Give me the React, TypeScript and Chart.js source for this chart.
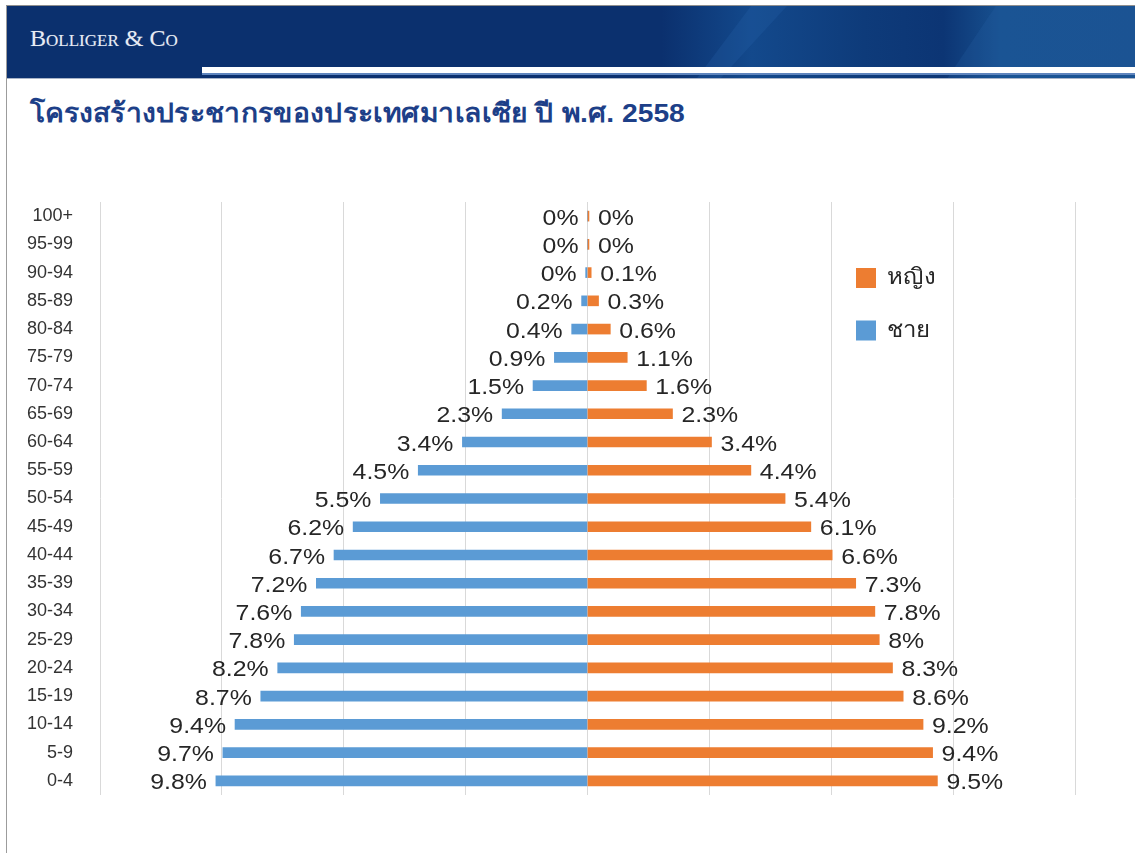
import React, { useEffect, useRef } from "react";
import { Chart, registerables } from "chart.js";

Chart.register(...registerables);

// ---- data (top row first) ----
const ageGroups = [
  "100+", "95-99", "90-94", "85-89", "80-84", "75-79", "70-74", "65-69", "60-64", "55-59", "50-54",
  "45-49", "40-44", "35-39", "30-34", "25-29", "20-24", "15-19", "10-14", "5-9", "0-4",
];
// bar lengths (share of population, %)
const maleValues = [
  0, 0, 0.05, 0.16, 0.43, 0.9, 1.48, 2.32, 3.4, 4.6, 5.63,
  6.37, 6.89, 7.37, 7.78, 7.97, 8.42, 8.88, 9.58, 9.91, 10.1,
];
const femaleValues = [
  0.04, 0.04, 0.1, 0.3, 0.62, 1.08, 1.6, 2.31, 3.37, 4.44, 5.37,
  6.07, 6.65, 7.29, 7.81, 7.93, 8.29, 8.58, 9.12, 9.38, 9.51,
];
// printed value labels
const maleLabels = [
  "0%", "0%", "0%", "0.2%", "0.4%", "0.9%", "1.5%", "2.3%", "3.4%", "4.5%", "5.5%",
  "6.2%", "6.7%", "7.2%", "7.6%", "7.8%", "8.2%", "8.7%", "9.4%", "9.7%", "9.8%",
];
const femaleLabels = [
  "0%", "0%", "0.1%", "0.3%", "0.6%", "1.1%", "1.6%", "2.3%", "3.4%", "4.4%", "5.4%",
  "6.1%", "6.6%", "7.3%", "7.8%", "8%", "8.3%", "8.6%", "9.2%", "9.4%", "9.5%",
];
const femaleName = "หญิง";
const maleName = "ชาย";
const titleText = "โครงสร้างประชากรของประเทศมาเลเซีย ปี พ.ศ. 2558";
const brandText = "Bolliger & Co";
const axisLimit = 13.25;
const gridSteps = 4; // per side

const MALE_COLOR = "#5B9BD5";
const FEMALE_COLOR = "#ED7D31";
const FONT = '"Liberation Sans", Arial, "Noto Sans", sans-serif';
const STRETCH = 1.13;

export default function App() {
  const canvasRef = useRef<HTMLCanvasElement | null>(null);

  useEffect(() => {
    const canvas = canvasRef.current;
    if (!canvas) return;

    const drawStretched = (
      ctx: CanvasRenderingContext2D,
      text: string,
      x: number,
      y: number,
      align: CanvasTextAlign,
      sx: number
    ) => {
      ctx.save();
      ctx.translate(x, y);
      ctx.scale(sx, 1);
      ctx.textAlign = align;
      ctx.fillText(text, 0, 0);
      ctx.restore();
    };

    const valueLabelPlugin = {
      id: "valueLabels",
      afterDatasetsDraw(chart: any) {
        const ctx = chart.ctx as CanvasRenderingContext2D;
        ctx.save();
        ctx.font = `22px ${FONT}`;
        ctx.fillStyle = "#262626";
        ctx.textBaseline = "middle";
        chart.data.datasets.forEach((_ds: any, di: number) => {
          const meta = chart.getDatasetMeta(di);
          const texts = di === 0 ? femaleLabels : maleLabels;
          meta.data.forEach((el: any, i: number) => {
            const { x, y } = el.getProps(["x", "y"], true);
            if (di === 0) drawStretched(ctx, texts[i], x + 9, y + 2.5, "left", STRETCH);
            else drawStretched(ctx, texts[i], x - 9, y + 2.5, "right", STRETCH);
          });
        });
        ctx.restore();
      },
    };

    const legendPlugin = {
      id: "sideLegend",
      afterDraw(chart: any) {
        const ctx = chart.ctx as CanvasRenderingContext2D;
        const area = chart.chartArea;
        const items = [
          { name: femaleName, color: FEMALE_COLOR },
          { name: maleName, color: MALE_COLOR },
        ];
        ctx.save();
        ctx.font = `22px ${FONT}`;
        ctx.textBaseline = "middle";
        items.forEach((it, k) => {
          const sx = area.right - 219;
          const sy = area.top + 66 + k * 52.5;
          ctx.fillStyle = it.color;
          ctx.fillRect(sx, sy, 20, 20);
          ctx.fillStyle = "#262626";
          drawStretched(ctx, it.name, sx + 31, sy + 10, "left", 1.09);
        });
        ctx.restore();
      },
    };

    const chart = new Chart(canvas, {
      type: "bar",
      data: {
        labels: ageGroups,
        datasets: [
          {
            label: femaleName,
            data: femaleValues,
            backgroundColor: FEMALE_COLOR,
            barThickness: 10,
            grouped: false,
          },
          {
            label: maleName,
            data: maleValues.map((v) => -v),
            backgroundColor: MALE_COLOR,
            barThickness: 10,
            grouped: false,
          },
        ],
      },
      options: {
        indexAxis: "y",
        animation: false,
        responsive: false,
        layout: { padding: { left: 0, right: 60, top: 52, bottom: 58 } },
        plugins: {
          legend: { display: false },
          tooltip: { enabled: false },
        },
        scales: {
          x: {
            min: -axisLimit,
            max: axisLimit,
            afterBuildTicks(scale: any) {
              const t = [];
              for (let k = -gridSteps; k <= gridSteps; k++) t.push({ value: (k * axisLimit) / gridSteps });
              scale.ticks = t;
            },
            ticks: { display: false },
            grid: { color: "#D9D9D9", lineWidth: 1, drawTicks: false },
            border: { display: false },
          },
          y: {
            afterFit(scale: any) {
              scale.width = 100;
            },
            ticks: {
              padding: 27,
              color: "#333333",
              font: { family: FONT, size: 18 },
            },
            grid: { display: false, drawTicks: false },
            border: { display: false },
          },
        },
      },
      plugins: [valueLabelPlugin, legendPlugin],
    } as any);

    return () => chart.destroy();
  }, []);

  return (
    <div style={{ position: "fixed", inset: 0, overflow: "hidden", background: "#fff" }}>
      {/* page frame lines */}
      <div style={{ position: "absolute", left: 6, top: 5, width: 1, bottom: 0, background: "#9c9c9c" }} />
      <div style={{ position: "absolute", left: 6, top: 5, right: 0, height: 1, background: "#8f8f8f" }} />
      {/* header banner */}
      <div
        style={{
          position: "absolute",
          left: 7,
          top: 6,
          right: 0,
          height: 72,
          background:
            "linear-gradient(90deg, #0B306E 0%, #0B306E 58%, #13498C 66%, #0E3B7A 76%, #0C3574 83%, #17508F 88%, #184F8E 100%)",
          overflow: "hidden",
        }}
      >
        <div
          style={{
            position: "absolute",
            left: 690,
            top: 0,
            width: 300,
            height: 72,
            background: "rgba(40,100,170,0.25)",
            clipPath: "polygon(18% 0, 30% 0, 8% 100%, 0 100%)",
          }}
        />
        <div
          style={{
            position: "absolute",
            left: 930,
            top: 0,
            width: 210,
            height: 72,
            background: "rgba(40,100,170,0.22)",
            clipPath: "polygon(28% 0, 100% 0, 100% 100%, 5% 100%)",
          }}
        />
        <div
          style={{
            position: "absolute",
            left: 23,
            top: 20,
            fontFamily: '"Liberation Serif", "Times New Roman", serif',
            fontVariant: "small-caps",
            fontSize: 24,
            lineHeight: "24px",
            color: "#E8ECF4",
            whiteSpace: "nowrap",
            textShadow: "0 0 1px rgba(255,255,255,0.3)",
          }}
        >
          {brandText}
        </div>
      </div>
      <div style={{ position: "absolute", left: 202, top: 67, right: 0, height: 6, background: "#FFFFFF" }} />
      <div style={{ position: "absolute", left: 202, top: 73, right: 0, height: 2, background: "#5F85BE" }} />
      <div style={{ position: "absolute", left: 7, top: 78, right: 0, height: 1, background: "#A9B4C8" }} />
      {/* title */}
      <div
        style={{
          position: "absolute",
          left: 30,
          top: 96,
          fontFamily: FONT,
          fontWeight: "bold",
          fontSize: 26,
          lineHeight: "34px",
          color: "#1D3F88",
          whiteSpace: "nowrap",
          transform: "scaleX(1.086)",
          transformOrigin: "left center",
        }}
      >
        {titleText}
      </div>
      <canvas
        ref={canvasRef}
        width={1135}
        height={703}
        style={{ position: "absolute", left: 0, top: 150, width: 1135, height: 703 }}
      />
    </div>
  );
}
